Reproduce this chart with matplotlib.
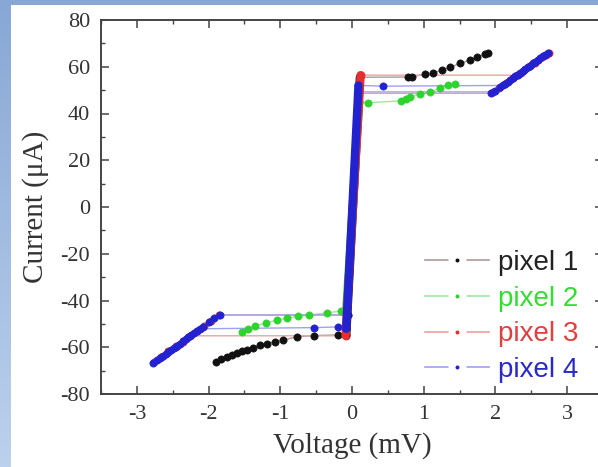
import numpy as np
import matplotlib
matplotlib.use("Agg")
import matplotlib.pyplot as plt
from matplotlib.lines import Line2D
from matplotlib.patches import Rectangle

plt.rcParams["axes.unicode_minus"] = False

# ---- measured I-V sweeps (voltage in mV, current in uA) ----
labels = ["pixel 1", "pixel 2", "pixel 3", "pixel 4"]
colors = ["#111111", "#2ed42e", "#e53030", "#2222d0"]
line_colors = ["#b09a9a", "#9ee89e", "#f0a0a0", "#a0a0f0"]
text_colors = ["#222222", "#33dd33", "#e04040", "#2a2ac8"]

# pixel 1
p1_v_pos = [0.11, 0.78, 0.83, 1.02, 1.13, 1.25, 1.37, 1.50, 1.65, 1.74, 1.85, 1.90]
p1_i_pos = [55.5, 55.6, 55.7, 56.8, 57.4, 58.5, 59.7, 61.4, 62.8, 64.2, 65.3, 65.8]
p1_v_neg = [-0.08, -0.19, -0.53, -0.77, -0.96, -1.07, -1.19, -1.28, -1.38, -1.47,
            -1.54, -1.61, -1.68, -1.75, -1.82, -1.89]
p1_i_neg = [-54.7, -54.7, -55.0, -55.5, -57.0, -57.6, -58.4, -59.2, -60.2, -61.0,
            -61.8, -62.5, -63.4, -64.3, -65.2, -66.1]
p1_v_sc = [-0.08, 0.11]
p1_i_sc = [-54.7, 55.5]

# pixel 2
p2_v_pos = [0.10, 0.22, 0.69, 0.75, 0.81, 0.95, 1.09, 1.23, 1.34, 1.44]
p2_i_pos = [45.0, 44.6, 45.4, 46.0, 47.1, 48.3, 49.3, 50.7, 52.1, 52.8]
p2_v_neg = [-0.08, -0.15, -0.35, -0.60, -0.75, -0.90, -1.05, -1.20, -1.35, -1.45, -1.54]
p2_i_neg = [-44.3, -44.5, -45.3, -46.2, -46.8, -47.5, -48.5, -49.5, -51.0, -52.2, -53.3]
p2_v_sc = [-0.08, 0.10]
p2_i_sc = [-44.3, 45.0]

# pixel 3
p3_v_pos = [0.12, 2.30, 2.40, 2.50, 2.60, 2.70, 2.75, 2.65, 2.55, 2.45, 2.35,
            2.25, 2.15, 2.05, 1.97, 0.08]
p3_i_pos = [56.4, 56.4, 58.6, 60.8, 63.0, 65.0, 66.0, 64.0, 61.8, 59.7, 57.5,
            55.3, 53.2, 51.0, 49.3, 49.3]
p3_v_neg = [-0.09, -2.26, -2.36, -2.46, -2.56, -2.66, -2.76, -2.66, -2.56, -2.46,
            -2.36, -2.26, -2.16, -2.06, -1.96, -1.85, -0.06]
p3_i_neg = [-55.1, -55.1, -57.4, -59.6, -61.8, -64.0, -66.3, -64.2, -61.9, -59.7,
            -57.6, -55.4, -53.1, -50.9, -48.6, -46.2, -46.2]
p3_v_sc = [-0.09, 0.12]
p3_i_sc = [-55.1, 56.4]

# pixel 4
p4_v_pos = [0.09, 0.43, 2.10, 2.17, 2.24, 2.31, 2.38, 2.45, 2.52, 2.59, 2.66, 2.73,
            2.69, 2.62, 2.55, 2.48, 2.41, 2.34, 2.27, 2.20, 2.13, 2.06, 1.99, 1.94, 0.08]
p4_i_pos = [52.0, 51.7, 52.0, 53.5, 55.1, 56.6, 58.2, 59.8, 61.4, 63.0, 64.5, 65.8,
            65.0, 63.6, 62.1, 60.5, 59.0, 57.4, 55.9, 54.3, 52.8, 51.2, 49.6, 48.7, 48.7]
p4_v_neg = [-0.08, -0.20, -0.53, -2.12, -2.20, -2.28, -2.36, -2.44, -2.52, -2.60,
            -2.68, -2.77, -2.72, -2.64, -2.56, -2.48, -2.40, -2.32, -2.24, -2.16,
            -2.08, -2.00, -1.92, -1.84, -0.06]
p4_i_neg = [-52.1, -51.3, -51.6, -52.1, -53.9, -55.7, -57.5, -59.3, -61.1, -62.9,
            -64.7, -66.6, -65.6, -63.8, -62.0, -60.2, -58.4, -56.6, -54.8, -53.0,
            -51.2, -49.4, -47.6, -46.2, -46.2]
p4_v_sc = [-0.08, 0.09]
p4_i_sc = [-52.1, 52.0]

sweeps = [
    (p1_v_pos, p1_i_pos, p1_v_neg, p1_i_neg, p1_v_sc, p1_i_sc),
    (p2_v_pos, p2_i_pos, p2_v_neg, p2_i_neg, p2_v_sc, p2_i_sc),
    (p3_v_pos, p3_i_pos, p3_v_neg, p3_i_neg, p3_v_sc, p3_i_sc),
    (p4_v_pos, p4_i_pos, p4_v_neg, p4_i_neg, p4_v_sc, p4_i_sc),
]

x_ticks = [-3, -2, -1, 0, 1, 2, 3]
y_ticks = [-80, -60, -40, -20, 0, 20, 40, 60, 80]

W, H = 598, 467
fig = plt.figure(figsize=(W / 100, H / 100), dpi=100)

# slide-style background: blue gradient frame with a white panel
bg = fig.add_axes([0, 0, 1, 1], zorder=0)
top_c = np.array(matplotlib.colors.to_rgb("#88a7d5"))
bot_c = np.array(matplotlib.colors.to_rgb("#bcd1ec"))
t = np.linspace(0, 1, 256)[:, None, None]
grad = top_c * (1 - t) + bot_c * t
grad = np.repeat(grad, 4, axis=1)
bg.imshow(grad, extent=[0, 1, 0, 1], aspect="auto", origin="upper")
bg.add_patch(Rectangle((11 / W, 0), 1 - 11 / W, 1 - 5 / H, color="white", lw=0))
bg.set_xlim(0, 1)
bg.set_ylim(0, 1)
bg.axis("off")

ax = fig.add_axes([101 / W, 73 / H, 502 / W, 374 / H], zorder=1)
ax.set_facecolor("none")

for (vp, ip, vn, i_n, vs, i_s), c, lc in zip(sweeps, colors, line_colors):
    for v, i in ((vp, ip), (vn, i_n)):
        ax.plot(v, i, "-", color=lc, lw=1.0, zorder=2)
        ax.plot(v, i, "o", color=c, ms=5.2, mec=c, mew=0.5, zorder=3)
    ax.plot(vs, i_s, "-", color=c, lw=6, solid_capstyle="round", zorder=4)

ax.set_xlim(-3.5, 3.5)
ax.set_ylim(-80, 80)
ax.set_xticks(x_ticks)
ax.set_yticks(y_ticks)
ax.set_xticks(np.arange(-3.5, 3.6, 0.5), minor=True)
ax.set_yticks(np.arange(-80, 81, 10), minor=True)

serif = ["Liberation Serif", "DejaVu Serif"]
ax.tick_params(which="major", direction="in", length=6, width=1.1, color="#444444",
               top=True, right=True, pad=8, labelsize=16, labelcolor="#333333")
ax.tick_params(which="minor", direction="in", length=3, width=1.0, color="#444444",
               top=True, right=True)
for lab in ax.get_xticklabels() + ax.get_yticklabels():
    lab.set_family(serif)
for s in ax.spines.values():
    s.set_color("#444444")
    s.set_linewidth(1.4)

ax.set_xlabel("Voltage (mV)", family=serif, fontsize=21, color="#333333", labelpad=6)
ax.set_ylabel("Current (\u03bcA)", family=serif, fontsize=21, color="#333333", labelpad=8)

handles = [Line2D([], [], color=lc, lw=1.2, marker="o", ms=8, mfc=c, mec="white", mew=5)
           for c, lc in zip(colors, line_colors)]
leg = ax.legend(handles, labels, loc="lower right", bbox_to_anchor=(603 / W, 1 - 408 / H),
                bbox_transform=fig.transFigure, frameon=False, numpoints=1,
                handlelength=2.3, handletextpad=0.3, labelspacing=0.35,
                prop={"family": ["Liberation Sans", "DejaVu Sans"], "size": 20})
for txt, tc in zip(leg.get_texts(), text_colors):
    txt.set_color(tc)

fig.savefig("out.png", dpi=100)
